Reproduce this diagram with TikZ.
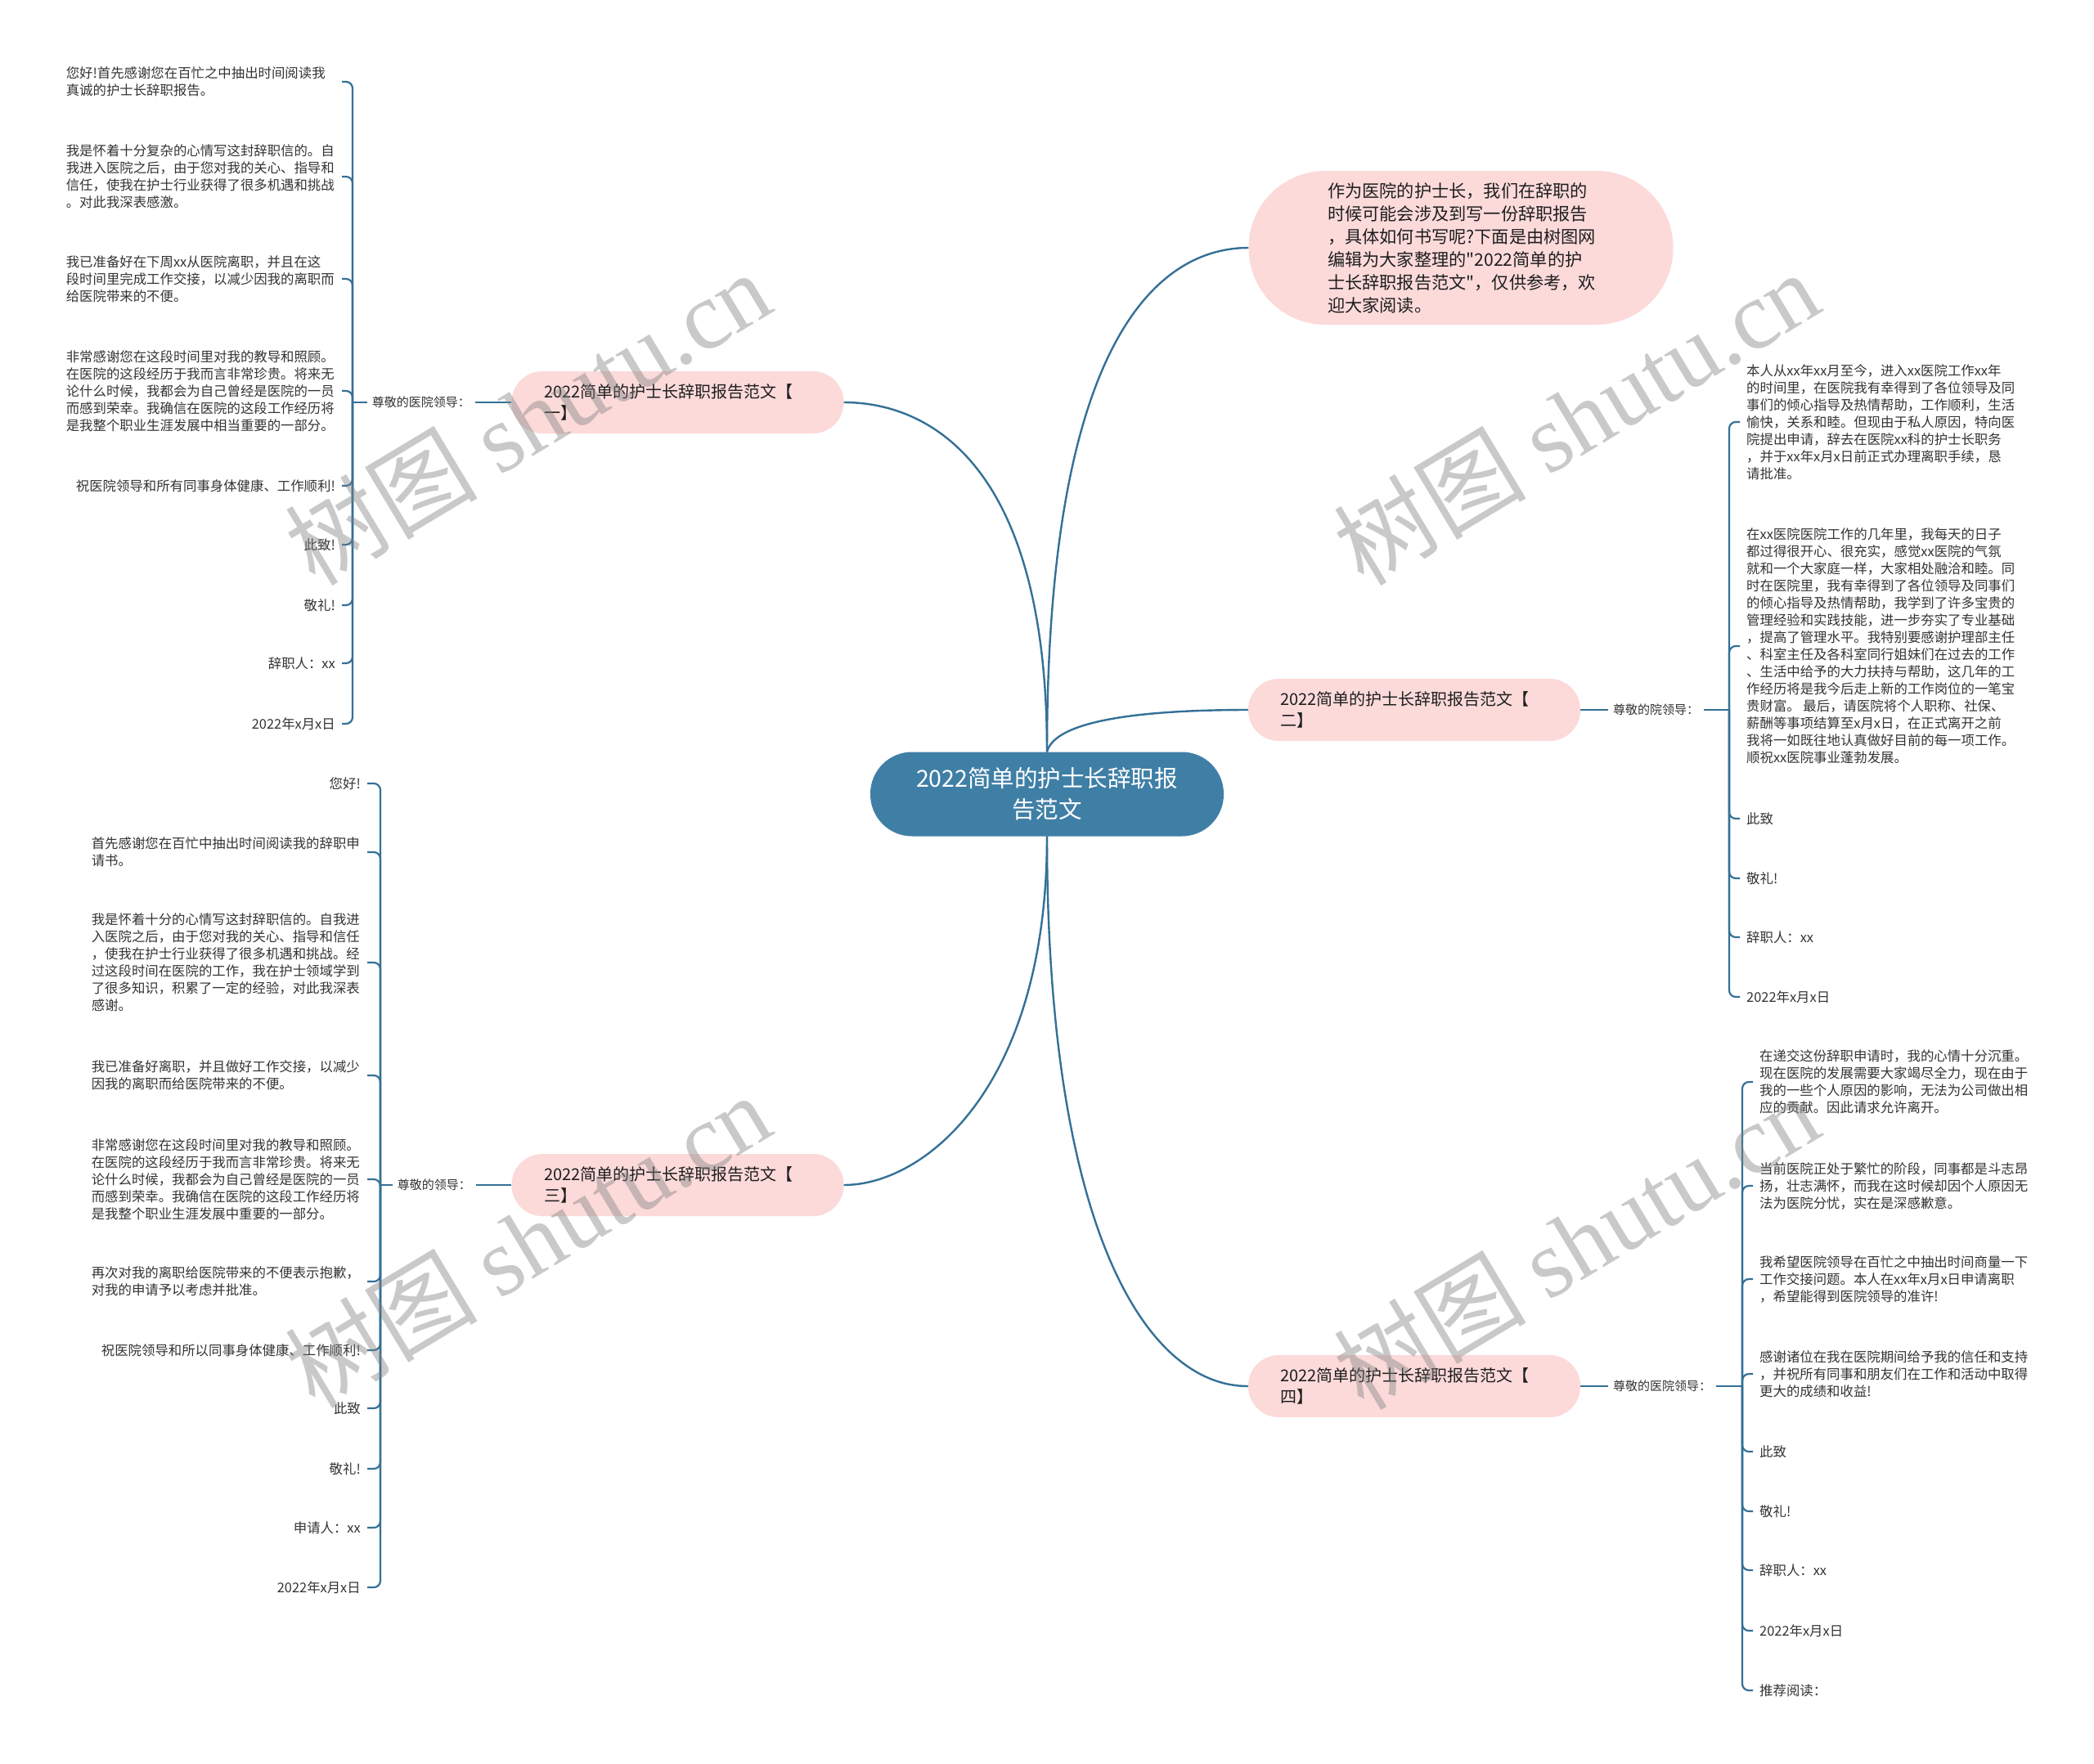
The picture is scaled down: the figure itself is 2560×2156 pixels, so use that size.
\documentclass[tikz,border=0pt]{standalone}
\usepackage{fontspec}
\setmainfont{Noto Sans CJK SC}[Ligatures=TeXOff]
\newfontfamily\wmserif{Liberation Serif}
\definecolor{linec}{RGB}{52,112,150}
\definecolor{ctrfill}{RGB}{63,127,166}
\definecolor{pinkfill}{RGB}{252,218,218}
\definecolor{txt}{RGB}{51,51,51}
\definecolor{brtxt}{RGB}{30,30,30}
\newcommand\lfnt{\fontsize{16.4pt}{21pt}\selectfont}
\newcommand\bfnt{\fontsize{20pt}{26pt}\selectfont}
\newcommand\cfnt{\fontsize{28.5pt}{38pt}\selectfont}
\newcommand\ifnt{\fontsize{21.2pt}{28pt}\selectfont}
\newcommand\labfnt{\fontsize{15pt}{19pt}\selectfont}
\newcommand\wmfnt{\fontsize{118pt}{130pt}\selectfont}
\tikzset{
  lnk/.style={draw=linec, line width=2.4pt},
  brk/.style={draw=linec, line width=2.2pt, rounded corners=8pt},
  leafL/.style={anchor=east, inner xsep=8pt, inner ysep=2pt, font=\lfnt, text=txt, align=left},
  multiL/.style={leafL, text width=329pt},
  leafR/.style={anchor=west, inner xsep=8pt, inner ysep=2pt, font=\lfnt, text=txt, align=left},
  labL/.style={anchor=east, inner xsep=6pt, font=\labfnt, text=txt},
  labR/.style={anchor=west, inner xsep=6pt, font=\labfnt, text=txt},
  branchbox/.style={fill=pinkfill, rounded corners=37.5pt, minimum width=406pt, minimum height=76pt, text width=327pt, align=left, font=\bfnt, inner sep=0pt, text=brtxt},
  wmark/.style={rotate=31, text=gray, opacity=0.42, font=\wmfnt},
}
\begin{document}
\begin{tikzpicture}[x=1pt,y=-1pt]
\useasboundingbox (0,0) rectangle (2560,2156);
\fill[white] (0,0) rectangle (2560,2156);

% center and main nodes
\node[fill=ctrfill, rounded corners=51pt, minimum width=432pt, minimum height=103pt, inner sep=0pt, text=white, align=center, font=\cfnt] (ctr) at (1280,971) {2022简单的护士长辞职报\\告范文};
\node[fill=pinkfill, rounded corners=93.5pt, minimum width=519pt, minimum height=188pt, inner sep=0pt, text width=326pt, align=left, font=\ifnt, text=brtxt] (intro) at (1786,303) {作为医院的护士长，我们在辞职的\\时候可能会涉及到写一份辞职报告\\，具体如何书写呢?下面是由树图网\\编辑为大家整理的"2022简单的护\\士长辞职报告范文"，仅供参考，欢\\迎大家阅读。};
\node[branchbox] (b1) at (828.5,492) {2022简单的护士长辞职报告范文【\\一】};
\node[branchbox] (b2) at (1729,868) {2022简单的护士长辞职报告范文【\\二】};
\node[branchbox] (b3) at (828.5,1449) {2022简单的护士长辞职报告范文【\\三】};
\node[branchbox] (b4) at (1729,1695) {2022简单的护士长辞职报告范文【\\四】};

\draw[lnk] (ctr.north) .. controls (1280,560) and (1130,492) .. (b1.east);
\draw[lnk] (ctr.north) .. controls (1280,408) and (1420,303) .. (intro.west);
\draw[lnk] (ctr.north) .. controls (1290,880) and (1400,868) .. (b2.west);
\draw[lnk] (ctr.south) .. controls (1280,1330) and (1130,1449) .. (b3.east);
\draw[lnk] (ctr.south) .. controls (1280,1500) and (1400,1695) .. (b4.west);

% labels
\node[labL] (l1) at (581,492) {尊敬的医院领导：};
\node[labL] (l3) at (582,1449) {尊敬的领导：};
\node[labR] (l2) at (1966,868) {尊敬的院领导：};
\node[labR] (l4) at (1966,1695) {尊敬的医院领导：};
\draw[lnk] (b1.west) -- (l1.east);
\draw[lnk] (b3.west) -- (l3.east);
\draw[lnk] (b2.east) -- (l2.west);
\draw[lnk] (b4.east) -- (l4.west);
\coordinate (s1) at (431,492);
\coordinate (s3) at (465,1449);
\coordinate (s2) at (2114,868);
\coordinate (s4) at (2130,1695);
\draw[lnk] (l1.west) -- (s1);
\draw[lnk] (l3.west) -- (s3);
\draw[lnk] (l2.east) -- (s2);
\draw[lnk] (l4.east) -- (s4);

% group 1 leaves
\node[multiL] (a1) at (418,100) {您好!首先感谢您在百忙之中抽出时间阅读我\\真诚的护士长辞职报告。};
\node[multiL] (a2) at (418,216) {我是怀着十分复杂的心情写这封辞职信的。自\\我进入医院之后，由于您对我的关心、指导和\\信任，使我在护士行业获得了很多机遇和挑战\\。对此我深表感激。};
\node[multiL] (a3) at (418,341) {我已准备好在下周xx从医院离职，并且在这\\段时间里完成工作交接，以减少因我的离职而\\给医院带来的不便。};
\node[multiL] (a4) at (418,478) {非常感谢您在这段时间里对我的教导和照顾。\\在医院的这段经历于我而言非常珍贵。将来无\\论什么时候，我都会为自己曾经是医院的一员\\而感到荣幸。我确信在医院的这段工作经历将\\是我整个职业生涯发展中相当重要的一部分。};
\node[leafL] (a5) at (418,594) {祝医院领导和所有同事身体健康、工作顺利!};
\node[leafL] (a6) at (418,666) {此致!};
\node[leafL] (a7) at (418,740) {敬礼!};
\node[leafL] (a8) at (418,811) {辞职人：xx};
\node[leafL] (a9) at (418,885) {2022年x月x日};
\foreach \n in {a1,a2,a3,a4,a5,a6,a7,a8,a9}
  \draw[brk] (s1) -- (s1 |- \n.east) -- (\n.east);

% group 3 leaves
\node[leafL] (c1) at (449,958) {您好!};
\node[multiL] (c2) at (449,1042) {首先感谢您在百忙中抽出时间阅读我的辞职申\\请书。};
\node[multiL] (c3) at (449,1177) {我是怀着十分的心情写这封辞职信的。自我进\\入医院之后，由于您对我的关心、指导和信任\\，使我在护士行业获得了很多机遇和挑战。经\\过这段时间在医院的工作，我在护士领域学到\\了很多知识，积累了一定的经验，对此我深表\\感谢。};
\node[multiL] (c4) at (449,1315) {我已准备好离职，并且做好工作交接，以减少\\因我的离职而给医院带来的不便。};
\node[multiL] (c5) at (449,1442) {非常感谢您在这段时间里对我的教导和照顾。\\在医院的这段经历于我而言非常珍贵。将来无\\论什么时候，我都会为自己曾经是医院的一员\\而感到荣幸。我确信在医院的这段工作经历将\\是我整个职业生涯发展中重要的一部分。};
\node[multiL] (c6) at (449,1567) {再次对我的离职给医院带来的不便表示抱歉，\\对我的申请予以考虑并批准。};
\node[leafL] (c7) at (449,1651) {祝医院领导和所以同事身体健康、工作顺利!};
\node[leafL] (c8) at (449,1722) {此致};
\node[leafL] (c9) at (449,1796) {敬礼!};
\node[leafL] (c10) at (449,1868) {申请人：xx};
\node[leafL] (c11) at (449,1941) {2022年x月x日};
\foreach \n in {c1,c2,c3,c4,c5,c6,c7,c8,c9,c10,c11}
  \draw[brk] (s3) -- (s3 |- \n.east) -- (\n.east);

% group 2 leaves
\node[leafR] (d1) at (2127,516) {本人从xx年xx月至今，进入xx医院工作xx年\\的时间里，在医院我有幸得到了各位领导及同\\事们的倾心指导及热情帮助，工作顺利，生活\\愉快，关系和睦。但现由于私人原因，特向医\\院提出申请，辞去在医院xx科的护士长职务\\，并于xx年x月x日前正式办理离职手续，恳\\请批准。};
\node[leafR] (d2) at (2127,790) {在xx医院医院工作的几年里，我每天的日子\\都过得很开心、很充实，感觉xx医院的气氛\\就和一个大家庭一样，大家相处融洽和睦。同\\时在医院里，我有幸得到了各位领导及同事们\\的倾心指导及热情帮助，我学到了许多宝贵的\\管理经验和实践技能，进一步夯实了专业基础\\，提高了管理水平。我特别要感谢护理部主任\\、科室主任及各科室同行姐妹们在过去的工作\\、生活中给予的大力扶持与帮助，这几年的工\\作经历将是我今后走上新的工作岗位的一笔宝\\贵财富。 最后，请医院将个人职称、社保、\\薪酬等事项结算至x月x日，在正式离开之前\\我将一如既往地认真做好目前的每一项工作。\\顺祝xx医院事业蓬勃发展。};
\node[leafR] (d3) at (2127,1001) {此致};
\node[leafR] (d4) at (2127,1074) {敬礼!};
\node[leafR] (d5) at (2127,1146) {辞职人：xx};
\node[leafR] (d6) at (2127,1219) {2022年x月x日};
\foreach \n in {d1,d2,d3,d4,d5,d6}
  \draw[brk] (s2) -- (s2 |- \n.west) -- (\n.west);

% group 4 leaves
\node[leafR] (e1) at (2143,1323) {在递交这份辞职申请时，我的心情十分沉重。\\现在医院的发展需要大家竭尽全力，现在由于\\我的一些个人原因的影响，无法为公司做出相\\应的贡献。因此请求允许离开。};
\node[leafR] (e2) at (2143,1450) {当前医院正处于繁忙的阶段，同事都是斗志昂\\扬，壮志满怀，而我在这时候却因个人原因无\\法为医院分忧，实在是深感歉意。};
\node[leafR] (e3) at (2143,1564) {我希望医院领导在百忙之中抽出时间商量一下\\工作交接问题。本人在xx年x月x日申请离职\\，希望能得到医院领导的准许!};
\node[leafR] (e4) at (2143,1680) {感谢诸位在我在医院期间给予我的信任和支持\\，并祝所有同事和朋友们在工作和活动中取得\\更大的成绩和收益!};
\node[leafR] (e5) at (2143,1775) {此致};
\node[leafR] (e6) at (2143,1848) {敬礼!};
\node[leafR] (e7) at (2143,1920) {辞职人：xx};
\node[leafR] (e8) at (2143,1994) {2022年x月x日};
\node[leafR] (e9) at (2143,2067) {推荐阅读：};
\foreach \n in {e1,e2,e3,e4,e5,e6,e7,e8,e9}
  \draw[brk] (s4) -- (s4 |- \n.west) -- (\n.west);

% watermarks
\node[wmark] (w1) at (645,510) {树图 {\wmserif shutu.cn}};
\node[wmark] (w2) at (1927,510) {树图 {\wmserif shutu.cn}};
\node[wmark] (w3) at (645,1516) {树图 {\wmserif shutu.cn}};
\node[wmark] (w4) at (1927,1518) {树图 {\wmserif shutu.cn}};
\end{tikzpicture}
\end{document}
